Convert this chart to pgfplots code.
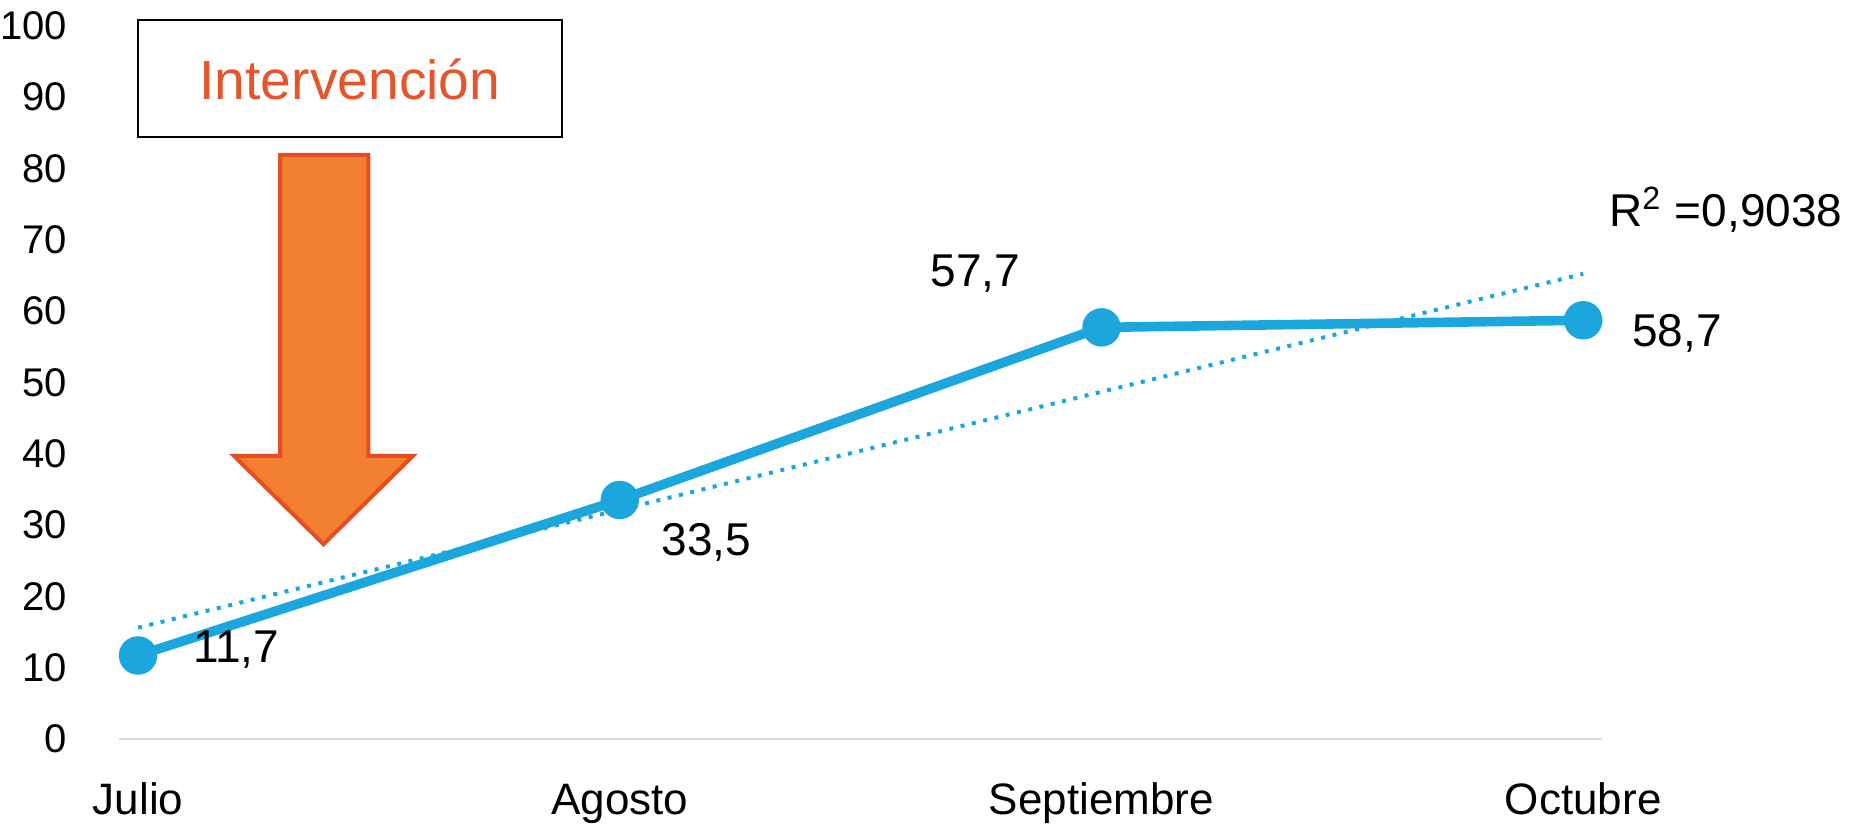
\documentclass[border=0pt]{standalone}
\usepackage{fontspec}
\setmainfont{Liberation Sans}
\usepackage{pgfplots}
\pgfplotsset{compat=1.18}

\definecolor{serie}{RGB}{27,167,222}
\definecolor{flecha}{RGB}{242,128,48}
\definecolor{borde}{RGB}{232,76,36}
\definecolor{texto}{RGB}{229,85,43}
\definecolor{eje}{RGB}{217,217,217}

\begin{document}
\begin{tikzpicture}
    \begin{axis}[
        scale only axis,
        width=370.9pt,
        height=178.3pt,
        xmin=-0.04, xmax=3.04,
        ymin=0, ymax=100,
        axis x line=bottom,
        axis y line=left,
        y axis line style={draw=none},
        x axis line style={eje, line width=0.7pt, -},
        tick style={draw=none},
        xtick={0,1,2,3},
        xticklabels={Julio, Agosto, Septiembre, Octubre},
        xticklabel style={font=\fontsize{11}{12}\selectfont, anchor=base, yshift=-16.8pt},
        ytick={0,10,...,100},
        yticklabel style={font=\fontsize{10}{11}\selectfont, xshift=-7.3pt},
        /pgf/number format/assume math mode=true,
        clip=false,
    ]
        % serie observada
        \addplot[serie, line width=2.4pt, line cap=round, line join=round,
                 mark=*, mark size=3.6pt, mark options={fill=serie, draw=serie, solid}]
            coordinates {(0,11.7) (1,33.5) (2,57.7) (3,58.7)};

        % linea de tendencia (extremos)
        \addplot[serie, line width=1pt, dash pattern=on 1pt off 1.9pt]
            coordinates {(0,15.6) (3,65.2)};

        % etiquetas de datos
        \node[font=\fontsize{11.5}{12}\selectfont] at (axis cs:0.204,12.5) {11,7};
        \node[font=\fontsize{11.5}{12}\selectfont] at (axis cs:1.18,27.5) {33,5};
        \node[font=\fontsize{11.5}{12}\selectfont] at (axis cs:1.738,65.2) {57,7};
        \node[font=\fontsize{11.5}{12}\selectfont] at (axis cs:3.195,56.9) {58,7};
        \node[font=\fontsize{11.5}{12}\selectfont, anchor=east, inner sep=0pt]
            at (axis cs:3.540,74.2) {R\textsuperscript{2} =0,9038};

        % recuadro y flecha
        \draw[black, line width=0.7pt] (axis cs:0,84.4) rectangle (axis cs:0.88,100.8);
        \node[text=texto, font=\fontsize{13.8}{14}\selectfont] at (axis cs:0.44,92.5) {Intervención};
        \filldraw[fill=flecha, draw=borde, line width=1pt, line join=miter]
            (axis cs:0.295,81.9) -- (axis cs:0.478,81.9) -- (axis cs:0.478,39.7)
            -- (axis cs:0.571,39.7) -- (axis cs:0.385,27.3) -- (axis cs:0.199,39.7)
            -- (axis cs:0.295,39.7) -- cycle;

        \coordinate (bl) at (axis cs:-0.2865,-12.2);
        \coordinate (tr) at (axis cs:3.558,103.6);
    \end{axis}
    \pgfresetboundingbox
    \path[use as bounding box] (bl) rectangle (tr);
\end{tikzpicture}
\end{document}
